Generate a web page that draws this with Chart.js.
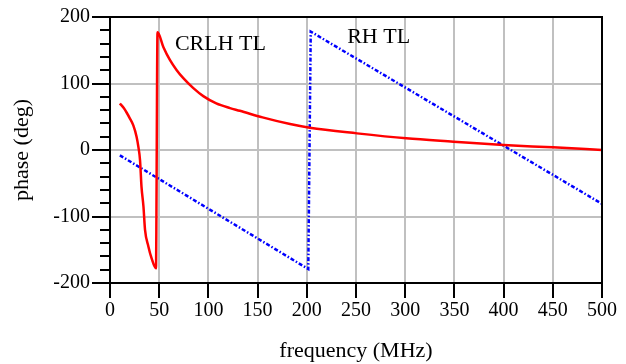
<!DOCTYPE html>
<html>
<head>
<meta charset="utf-8">
<script src="https://cdn.jsdelivr.net/npm/chart.js@4/dist/chart.umd.min.js"></script>
<style>
  html, body { margin: 0; padding: 0; background: #fff; }
  #wrap { width: 626px; height: 364px; }
</style>
</head>
<body>
<div id="wrap"><canvas id="phaseChart" width="626" height="364"></canvas></div>
<script>
// CRLH TL phase response (MHz, deg)
var crlhFreq  = [10, 14, 17, 20, 23.7, 27, 28.8, 30.5, 32, 34, 35.6, 39, 42.3, 46.7, 48.3, 54.2, 61, 67.8, 74.5, 84.7, 94.8, 108, 122, 132, 155, 183, 203, 251, 301, 349, 400, 450, 500];
var crlhPhase = [70, 63, 56, 48, 37, 20, 5, -15, -55, -85, -120, -145, -163, -178, 177, 155, 135, 120, 108, 93, 81, 70, 63, 59, 49, 39, 33.5, 25, 17.5, 12.5, 7.5, 4, 0];

// RH TL phase response
var rhFreq  = [10, 201.5, 204, 500];
var rhPhase = [-8, -179, 178, -81];

// axis ticks
var xTicks = [0, 50, 100, 150, 200, 250, 300, 350, 400, 450, 500];
var yTicks = [-200, -100, 0, 100, 200];
var yMinorStep = 20;

// curve labels placed in data units
var curveLabels = ['CRLH TL', 'RH TL'];
var curveLabelX = [66, 241];
var curveLabelY = [150, 161];

var serif = 'Liberation Serif, Times New Roman, serif';

function toPoints(xs, ys) {
    return xs.map(function(x, i) { return { x: x, y: ys[i] }; });
}

// minor ticks, box frame and curve names
var extrasPlugin = {
    id: 'extras',
    afterDraw: function(chart) {
        var ctx = chart.ctx;
        var area = chart.chartArea;
        var xs = chart.scales.x;
        var ys = chart.scales.y;
        ctx.save();
        ctx.strokeStyle = '#000';
        ctx.lineWidth = 2;
        ctx.beginPath();
        for (var v = ys.min; v <= ys.max; v += yMinorStep) {
            if (v % 100 === 0) continue;
            var py = Math.round(ys.getPixelForValue(v));
            ctx.moveTo(area.left - 10, py);
            ctx.lineTo(area.left, py);
        }
        ctx.stroke();
        // top and right frame
        ctx.beginPath();
        ctx.moveTo(area.left, area.top);
        ctx.lineTo(area.right, area.top);
        ctx.lineTo(area.right, area.bottom);
        ctx.stroke();
        // curve names
        ctx.fillStyle = '#000';
        ctx.font = '22px ' + serif;
        ctx.textBaseline = 'alphabetic';
        for (var i = 0; i < curveLabels.length; i++) {
            ctx.fillText(curveLabels[i], xs.getPixelForValue(curveLabelX[i]), ys.getPixelForValue(curveLabelY[i]));
        }
        ctx.restore();
    }
};

var ctx = document.getElementById('phaseChart').getContext('2d');
var chart = new Chart(ctx, {
    type: 'line',
    data: {
        datasets: [{
            label: 'CRLH TL',
            data: toPoints(crlhFreq, crlhPhase),
            borderColor: '#ff0000',
            borderWidth: 2.5,
            pointRadius: 0,
            cubicInterpolationMode: 'monotone',
            fill: false
        }, {
            label: 'RH TL',
            data: toPoints(rhFreq, rhPhase),
            borderColor: '#0000ff',
            borderWidth: 2.5,
            borderDash: [4, 2, 1.5, 2],
            pointRadius: 0,
            tension: 0,
            fill: false
        }]
    },
    options: {
        responsive: false,
        animation: false,
        devicePixelRatio: 1,
        layout: { padding: { left: 0, right: 24, top: 17, bottom: 0 } },
        plugins: {
            legend: { display: false },
            tooltip: { enabled: false }
        },
        scales: {
            x: {
                type: 'linear',
                min: 0,
                max: 500,
                afterBuildTicks: function(scale) {
                    scale.ticks = xTicks.map(function(v) { return { value: v }; });
                },
                afterFit: function(scale) { scale.height = 81; },
                ticks: {
                    color: '#000',
                    font: { family: serif, size: 20 },
                    padding: 1,
                    maxRotation: 0,
                    autoSkip: false
                },
                grid: {
                    color: '#c0c0c0',
                    lineWidth: 2,
                    tickColor: '#000',
                    tickLength: 15,
                    tickWidth: 2
                },
                border: { color: '#000', width: 2 },
                title: {
                    display: true,
                    text: 'frequency (MHz)',
                    color: '#000',
                    font: { family: serif, size: 22 },
                    padding: { top: 0, bottom: 0 }
                }
            },
            y: {
                min: -200,
                max: 200,
                afterBuildTicks: function(scale) {
                    scale.ticks = yTicks.map(function(v) { return { value: v }; });
                },
                afterFit: function(scale) { scale.width = 110; },
                ticks: {
                    color: '#000',
                    font: { family: serif, size: 20 },
                    padding: 2,
                    callback: function(v) { return String(v); }
                },
                grid: {
                    color: '#c0c0c0',
                    lineWidth: 2,
                    tickColor: '#000',
                    tickLength: 18,
                    tickWidth: 2
                },
                border: { color: '#000', width: 2 },
                title: {
                    display: true,
                    text: 'phase (deg)',
                    color: '#000',
                    font: { family: serif, size: 22 },
                    padding: { top: 9, bottom: 0 }
                }
            }
        }
    },
    plugins: [extrasPlugin]
});
</script>
</body>
</html>
